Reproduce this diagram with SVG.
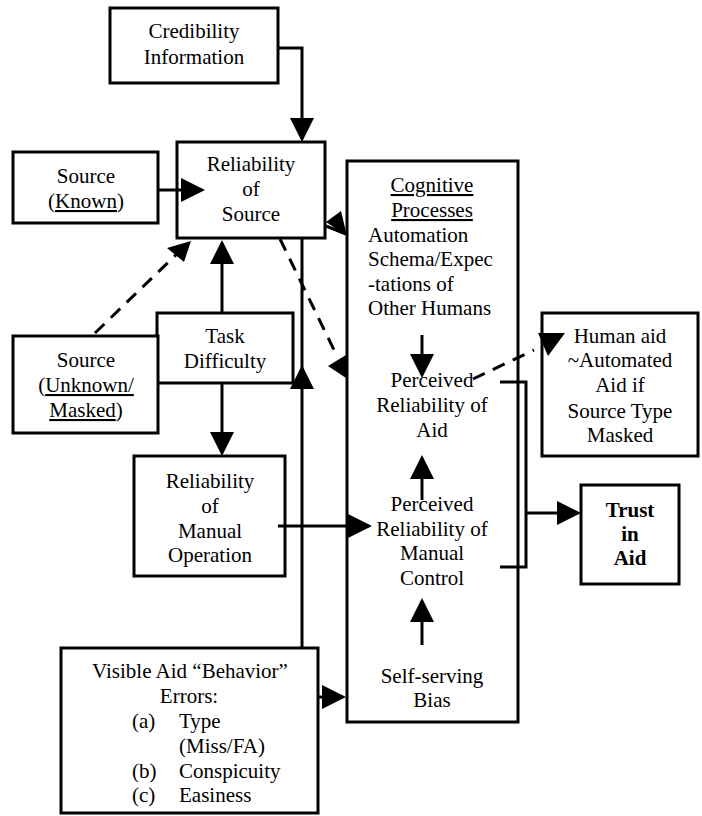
<svg xmlns="http://www.w3.org/2000/svg" width="702" height="816" viewBox="0 0 702 816">
<defs>
<style>
.box{fill:#fff;stroke:#000;stroke-width:3}
.t{font-family:"Liberation Serif","Times New Roman",serif;font-size:21px;fill:#000}
.c{text-anchor:middle}
.b{font-weight:bold}
.u{text-decoration:underline}
.ln{fill:none;stroke:#000;stroke-width:3}
.dash{fill:none;stroke:#000;stroke-width:3;stroke-dasharray:13 9}
.head{fill:#000;stroke:none}
</style>
<marker id="ah" markerUnits="userSpaceOnUse" markerWidth="24" markerHeight="24" refX="21" refY="12" orient="auto" viewBox="0 0 24 24">
<path d="M0,0 L24,12 L0,24 z" fill="#000"/>
</marker>
</defs>
<rect width="702" height="816" fill="#fff"/>

<g id="cognitive">
<rect class="box" x="347" y="161" width="171" height="561"/>
<text class="t c" x="432" y="192"><tspan class="u">Cognitive</tspan></text>
<text class="t c" x="432" y="217"><tspan class="u">Processes</tspan></text>
<text class="t" x="368" y="242">Automation</text>
<text class="t" x="368" y="266">Schema/Expec</text>
<text class="t" x="368" y="291">-tations of</text>
<text class="t" x="368" y="315">Other Humans</text>
<text class="t c" x="432" y="387">Perceived</text>
<text class="t c" x="432" y="412">Reliability of</text>
<text class="t c" x="432" y="437">Aid</text>
<text class="t c" x="432" y="511">Perceived</text>
<text class="t c" x="432" y="536">Reliability of</text>
<text class="t c" x="432" y="560">Manual</text>
<text class="t c" x="432" y="585">Control</text>
<text class="t c" x="432" y="683">Self-serving</text>
<text class="t c" x="432" y="707">Bias</text>
</g>

<g id="credibility">
<rect class="box" x="110" y="8" width="168" height="75"/>
<text class="t c" x="194" y="38">Credibility</text>
<text class="t c" x="194" y="64">Information</text>
</g>

<g id="reliability-source">
<rect class="box" x="177" y="142" width="148" height="96"/>
<text class="t c" x="251" y="171">Reliability</text>
<text class="t c" x="251" y="196">of</text>
<text class="t c" x="251" y="221">Source</text>
</g>

<g id="source-known">
<rect class="box" x="13" y="152" width="145" height="71"/>
<text class="t c" x="86" y="183">Source</text>
<text class="t c" x="86" y="208">(<tspan class="u">Known</tspan>)</text>
</g>

<g id="task-difficulty">
<rect class="box" x="157" y="313" width="136" height="70"/>
<text class="t c" x="225" y="343">Task</text>
<text class="t c" x="225" y="368">Difficulty</text>
</g>

<g id="source-unknown">
<rect class="box" x="13" y="336" width="145" height="97"/>
<text class="t c" x="86" y="367">Source</text>
<text class="t c" x="86" y="392">(<tspan class="u">Unknown/</tspan></text>
<text class="t c" x="86" y="417"><tspan class="u">Masked</tspan>)</text>
</g>

<g id="manual-operation">
<rect class="box" x="134" y="456" width="151" height="120"/>
<text class="t c" x="210" y="488">Reliability</text>
<text class="t c" x="210" y="513">of</text>
<text class="t c" x="210" y="538">Manual</text>
<text class="t c" x="210" y="562">Operation</text>
</g>

<g id="human-aid">
<rect class="box" x="542" y="313" width="156" height="143"/>
<text class="t c" x="620" y="343">Human aid</text>
<text class="t c" x="620" y="367">~Automated</text>
<text class="t c" x="620" y="392">Aid if</text>
<text class="t c" x="620" y="418">Source Type</text>
<text class="t c" x="620" y="442">Masked</text>
</g>

<g id="trust">
<rect class="box" x="581" y="485" width="98" height="99"/>
<text class="t c b" x="630" y="517">Trust</text>
<text class="t c b" x="630" y="541">in</text>
<text class="t c b" x="630" y="565">Aid</text>
</g>

<g id="visible-aid">
<rect class="box" x="61" y="648" width="257" height="165"/>
<text class="t c" x="190" y="678">Visible Aid “Behavior”</text>
<text class="t c" x="189" y="703">Errors:</text>
<text class="t" x="132" y="728">(a)</text>
<text class="t" x="179" y="728">Type</text>
<text class="t" x="179" y="753">(Miss/FA)</text>
<text class="t" x="132" y="778">(b)</text>
<text class="t" x="179" y="778">Conspicuity</text>
<text class="t" x="132" y="802">(c)</text>
<text class="t" x="179" y="802">Easiness</text>
</g>

<g id="connectors">
<path class="ln" d="M278,48 H302 V139" marker-end="url(#ah)"/>
<path class="ln" d="M158,190 H202" marker-end="url(#ah)"/>
<path class="ln" d="M222,313 V243" marker-end="url(#ah)"/>
<path class="ln" d="M222,383 V453" marker-end="url(#ah)"/>
<path class="ln" d="M278,526 H369" marker-end="url(#ah)"/>
<path class="ln" d="M318,697 H343" marker-end="url(#ah)"/>
<path class="ln" d="M302,648 V368" marker-end="url(#ah)"/>
<path class="ln" d="M302,368 V238"/>
<path class="ln" d="M422,335 V375" marker-end="url(#ah)"/>
<path class="ln" d="M422,500 V458" marker-end="url(#ah)"/>
<path class="ln" d="M422,645 V601" marker-end="url(#ah)"/>
<path class="ln" d="M500,382 H526 V567 H500"/>
<path class="ln" d="M526,513 H578" marker-end="url(#ah)"/>
<path class="dash" d="M95,333 L182,249"/>
<polygon class="head" points="191,241 167,248 184,262"/>
<path class="dash" d="M280,239 L337,356"/>
<polygon class="head" points="328,366 346,355 346,378"/>
<path class="dash" d="M473,379 L534,350"/>
<polygon class="head" points="538,333 565,333 548,356"/>
<path class="ln" d="M326,226 L346,234"/>
<polygon class="head" points="326,222 341,211 347,236"/>
</g>
</svg>
